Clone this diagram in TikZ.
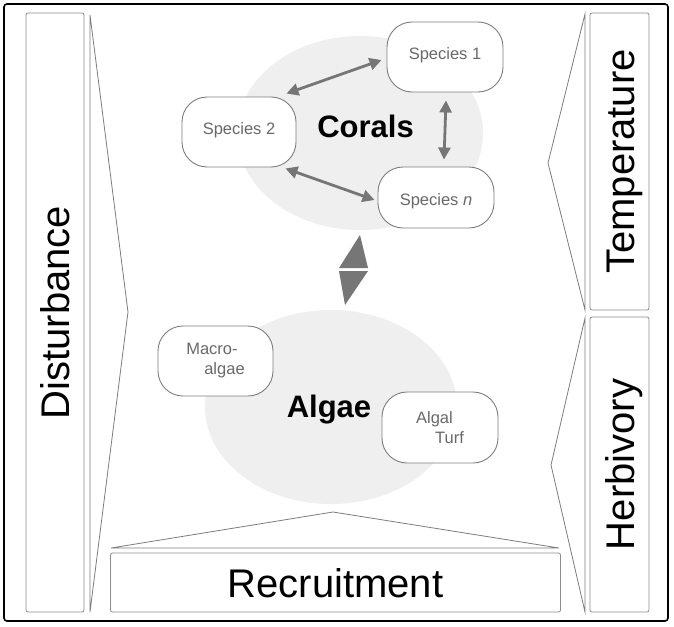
\documentclass[tikz,border=0pt]{standalone}
\usepackage{fontspec}
\setmainfont{Liberation Sans}
\usetikzlibrary{arrows.meta,calc}
\definecolor{ellfill}{RGB}{239,239,239}
\definecolor{linegray}{RGB}{125,125,125}
\definecolor{boxgray}{RGB}{140,140,140}
\definecolor{txtgray}{RGB}{105,105,105}
\definecolor{arrgray}{RGB}{118,118,118}
\begin{document}
\begin{tikzpicture}[x=1pt,y=-1pt,
  frame/.style={draw=black,line width=1.6pt,rounded corners=3pt},
  labelbox/.style={draw=boxgray,line width=0.8pt,rounded corners=2pt,inner sep=0pt,
    font=\fontsize{40}{48}\selectfont,text height=29pt,text depth=0pt},
  wedge/.style={draw=linegray,line width=0.8pt,line join=miter},
  species/.style={draw=linegray,line width=0.9pt,fill=white,rounded corners=25pt,
    text=txtgray,font=\fontsize{16.5}{20}\selectfont,inner sep=0pt,align=left},
  biarrow/.style={draw=arrgray,line width=2.8pt,
    {Triangle[length=12pt,width=12pt]}-{Triangle[length=12pt,width=12pt]}},
  grouplabel/.style={font=\fontsize{31}{36}\bfseries\selectfont,text height=22pt,text depth=0pt,inner sep=0pt}
]
\useasboundingbox (0,0) rectangle (674,626);
\fill[white] (0,0) rectangle (674,626);

% background ellipses
\fill[ellfill] (360,133) ellipse [x radius=123, y radius=97];
\fill[ellfill] (331,407) ellipse [x radius=126, y radius=97];

% outer frame
\draw[frame] (4,4) rectangle (668,621);

% side wedges
\draw[wedge] (90,15) -- (128,312) -- (90,612) -- cycle;
\draw[wedge] (585,14) -- (548,163) -- (585,310) -- cycle;
\draw[wedge] (585,318) -- (551,465) -- (585,612) -- cycle;
\draw[wedge] (111,548) -- (333,512) -- (559,548) -- cycle;

% factor boxes
\node[labelbox,rotate=90,minimum width=599pt,minimum height=58pt] (dist) at (55,312.5) {Disturbance};
\node[labelbox,rotate=90,minimum width=297pt,minimum height=59pt] (temp) at (619.5,161.5) {Temperature};
\node[labelbox,rotate=90,minimum width=295pt,minimum height=59pt] (herb) at (619.5,464.5) {Herbivory};
\node[labelbox,minimum width=450pt,minimum height=59pt] (recr) at (335.5,582.5) {Recruitment};

% group labels
\node[grouplabel] (corals) at (365.5,126.5) {Corals};
\node[grouplabel] (algae) at (329,406) {Algae};

% species nodes
\node[species,minimum width=114pt,minimum height=70pt,text height=11.5pt,text depth=6pt] (s2) at (239,132) {Species 2};
\node[species,minimum width=116pt,minimum height=70pt,text height=11.5pt,text depth=7pt] (s1) at (445,57) {Species 1};
\node[species,minimum width=116pt,minimum height=61pt,text height=16.5pt,text depth=0pt] (sn) at (436,197.5) {Species \textit{n}};
\node[species,minimum width=115pt,minimum height=70pt] (macro) at (215.5,361) {Macro-\\\hspace*{18pt}algae};
\node[species,minimum width=116pt,minimum height=71pt] (turf) at (440,427.5) {Algal\\\hspace*{19pt}Turf};

% arrows between coral species
\draw[biarrow] ($(s2.north east)+(-10,-3)$) -- ($(s1.west)+(-5,3)$);
\draw[biarrow] ($(s2.south east)+(-11,1)$) -- ($(sn.west)+(-3,2.5)$);
\draw[biarrow] ($(s1.south)+(1,8)$) -- ($(sn.north)+(8,-7)$);

% big double arrow between corals and algae
\fill[arrgray] (360,235) -- (368,268) -- (339,268) -- cycle;
\fill[arrgray] (339,271) -- (368,271) -- (345,305) -- cycle;
\end{tikzpicture}
\end{document}
